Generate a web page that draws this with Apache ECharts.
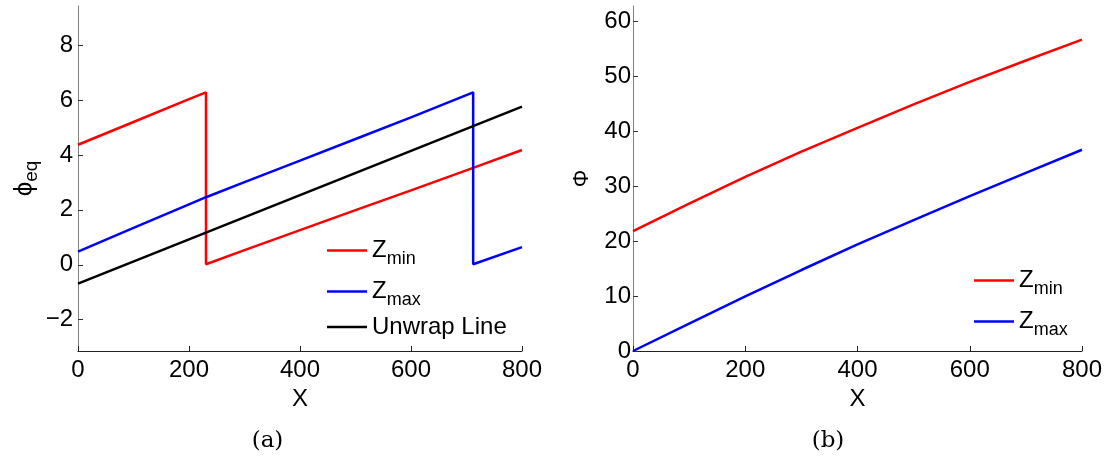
<!DOCTYPE html>
<html>
<head>
<meta charset="utf-8">
<script src="https://cdn.jsdelivr.net/npm/echarts@6/dist/echarts.min.js"></script>
<style>
html,body{margin:0;padding:0;background:#fff;}
#c{width:1112px;height:459px;}
</style>
</head>
<body>
<div id="c"></div>
<script>
// ---- data ----
const xTicks = [0, 200, 400, 600, 800];
const phiEqTicks = [-2, 0, 2, 4, 6, 8];
const phiTicks = [0, 10, 20, 30, 40, 50, 60];

// (a) wrapped phase
const zminEqX = [0, 100, 200, 230.6, 230.6, 300, 400, 500, 600, 712, 800];
const zminEqY = [4.37, 5.2, 6.03, 6.28, 0.02, 0.53, 1.26, 1.99, 2.71, 3.53, 4.18];
const zmaxEqX = [0, 100, 200, 230.6, 300, 400, 500, 600, 712, 712, 800];
const zmaxEqY = [0.48, 1.34, 2.2, 2.46, 3.01, 3.79, 4.58, 5.37, 6.28, 0.02, 0.64];
const unwrapX = [0, 800];
const unwrapY = [-0.69, 5.76];

// (b) unwrapped phase
const phiX = [0, 100, 200, 300, 400, 500, 600, 700, 800];
const zminPhi = [21.85, 26.85, 31.7, 36.3, 40.65, 44.9, 49.0, 52.9, 56.7];
const zmaxPhi = [0, 5.0, 9.95, 14.75, 19.4, 23.85, 28.2, 32.45, 36.65];

const FONT = 'Liberation Sans';
const pairs = (xs, ys) => xs.map((x, i) => [x, ys[i]]);
const minusFmt = v => (v < 0 ? '\u2212' + Math.abs(v) : String(v));

const rich = {
  z: {fontSize: 24, lineHeight: 24, verticalAlign: 'top', fontFamily: FONT, color: '#000'},
  s: {fontSize: 18, lineHeight: 18, padding: [17, 0, 0, 0], fontFamily: FONT, color: '#000'},
  t: {fontSize: 24, lineHeight: 25, fontFamily: FONT, color: '#000'}
};
const legendFmt = name => {
  const i = name.indexOf('_');
  if (i >= 0) return '{z|' + name.slice(0, i) + '}{s|' + name.slice(i + 1) + '}';
  return '{t|' + name + '}';
};

function xAxisCfg(gi) {
  return {
    type: 'value', gridIndex: gi, min: 0, max: 800, interval: 200,
    name: 'X', nameLocation: 'middle', nameGap: 32,
    nameTextStyle: {fontSize: 24, fontFamily: FONT, color: '#000'},
    axisLine: {show: true, onZero: false, lineStyle: {color: '#222', width: 1}},
    axisTick: {show: true, inside: true, length: 5, customValues: xTicks, lineStyle: {color: '#222'}},
    axisLabel: {fontSize: 24, fontFamily: FONT, color: '#000', margin: 7, customValues: xTicks},
    splitLine: {show: false}
  };
}

const option = {
  animation: false,
  backgroundColor: '#fff',
  grid: [
    {left: 78, top: 6, width: 444, height: 345, outerBoundsMode: 'none', containLabel: false},
    {left: 633, top: 6, width: 449, height: 345, outerBoundsMode: 'none', containLabel: false}
  ],
  xAxis: [xAxisCfg(0), xAxisCfg(1)],
  yAxis: [
    {
      type: 'value', gridIndex: 0, min: -Math.PI, max: 3 * Math.PI,
      name: '{p|\u03D5}{s|eq}', nameLocation: 'middle', nameGap: 38, nameRotate: 90,
      nameTextStyle: {
        rich: {
          p: {fontSize: 26, lineHeight: 26, verticalAlign: 'top', fontFamily: FONT, color: '#000'},
          s: {fontSize: 19, lineHeight: 19, padding: [14, 0, 0, 0], fontFamily: FONT, color: '#000'}
        }
      },
      axisLine: {show: true, onZero: false, lineStyle: {color: '#808080', width: 1}},
      axisTick: {show: true, inside: true, length: 5, customValues: phiEqTicks, lineStyle: {color: '#333'}},
      axisLabel: {fontSize: 24, fontFamily: FONT, color: '#000', margin: 5,
        customValues: phiEqTicks, formatter: minusFmt},
      splitLine: {show: false}
    },
    {
      type: 'value', gridIndex: 1, min: 0, max: 20 * Math.PI,
      name: '\u03A6', nameLocation: 'middle', nameGap: 40, nameRotate: 90,
      nameTextStyle: {fontSize: 22, fontFamily: FONT, color: '#000'},
      axisLine: {show: true, onZero: false, lineStyle: {color: '#808080', width: 1}},
      axisTick: {show: true, inside: true, length: 5, customValues: phiTicks, lineStyle: {color: '#333'}},
      axisLabel: {fontSize: 24, fontFamily: FONT, color: '#000', margin: 2,
        customValues: phiTicks, formatter: minusFmt},
      splitLine: {show: false}
    }
  ],
  legend: [
    {
      orient: 'vertical', left: 327, top: 233, padding: 0, itemGap: 6,
      itemWidth: 40, itemHeight: 2.5, icon: 'rect', selectedMode: false,
      data: ['Z_min', 'Z_max', 'Unwrap Line'],
      formatter: legendFmt, textStyle: {rich: rich, color: '#000'}
    },
    {
      orient: 'vertical', left: 974, top: 263, padding: 0, itemGap: 6,
      itemWidth: 40, itemHeight: 2.5, icon: 'rect', selectedMode: false,
      data: ['Z_min', 'Z_max'],
      formatter: legendFmt, textStyle: {rich: rich, color: '#000'}
    }
  ],
  series: [
    {name: 'Z_min', type: 'line', xAxisIndex: 0, yAxisIndex: 0, symbol: 'none',
      data: pairs(zminEqX, zminEqY), lineStyle: {color: '#ff0000', width: 2.5}, itemStyle: {color: '#ff0000'}},
    {name: 'Z_max', type: 'line', xAxisIndex: 0, yAxisIndex: 0, symbol: 'none',
      data: pairs(zmaxEqX, zmaxEqY), lineStyle: {color: '#0000ff', width: 2.5}, itemStyle: {color: '#0000ff'}},
    {name: 'Unwrap Line', type: 'line', xAxisIndex: 0, yAxisIndex: 0, symbol: 'none',
      data: pairs(unwrapX, unwrapY), lineStyle: {color: '#000000', width: 2.5}, itemStyle: {color: '#000000'}},
    {name: 'Z_min', type: 'line', xAxisIndex: 1, yAxisIndex: 1, symbol: 'none',
      data: pairs(phiX, zminPhi), lineStyle: {color: '#ff0000', width: 2.5}, itemStyle: {color: '#ff0000'}},
    {name: 'Z_max', type: 'line', xAxisIndex: 1, yAxisIndex: 1, symbol: 'none',
      data: pairs(phiX, zmaxPhi), lineStyle: {color: '#0000ff', width: 2.5}, itemStyle: {color: '#0000ff'}}
  ],
  graphic: [
    {type: 'text', x: 267.5, y: 441, silent: true,
      style: {text: '(a)', align: 'center', verticalAlign: 'middle', font: '23px "DejaVu Serif"', fill: '#000'}},
    {type: 'text', x: 828, y: 441, silent: true,
      style: {text: '(b)', align: 'center', verticalAlign: 'middle', font: '23px "DejaVu Serif"', fill: '#000'}}
  ]
};

const chart = echarts.init(document.getElementById('c'), null, {renderer: 'canvas'});
chart.setOption(option);
</script>
</body>
</html>
